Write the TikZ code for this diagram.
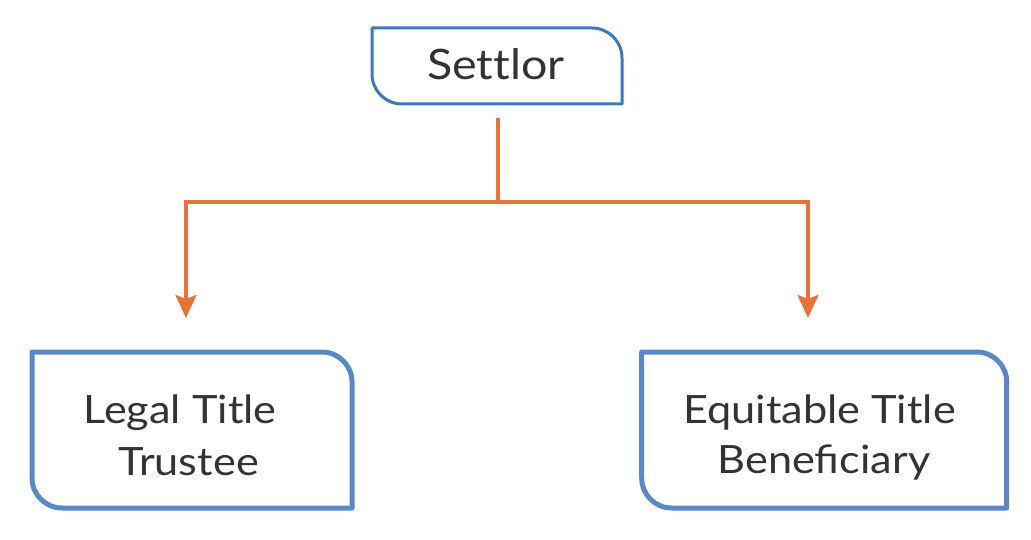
\documentclass[tikz,border=0pt]{standalone}
\usepackage{fontspec}
\setmainfont{Lato}[FakeStretch=1.11]
\usetikzlibrary{arrows.meta}
\definecolor{topblue}{HTML}{3B78C0}
\definecolor{boxblue}{HTML}{5A88C6}
\definecolor{conorange}{HTML}{E6743A}
\definecolor{txt}{HTML}{333333}
\tikzset{
  boxnode/.style={inner sep=0pt, outer sep=0pt, draw=none},
  lbl/.style={text=txt, inner sep=0pt, anchor=base, font=\fontsize{39}{46}\selectfont},
  conn/.style={draw=conorange, line width=3.5pt},
  arr/.style={conn, -{Stealth[length=23pt, width=21pt, inset=4pt]}},
}
\newcommand{\myframe}[4]{% node, radius, color, width
  \draw[draw=#3, line width=#4, line join=round]
    (#1.north west) -- ([xshift=-#2]#1.north east)
    arc[start angle=90, end angle=0, radius=#2]
    -- (#1.south east) -- ([xshift=#2]#1.south west)
    arc[start angle=270, end angle=180, radius=#2] -- cycle;}
\begin{document}
\begin{tikzpicture}[x=1pt, y=-1pt]
  \useasboundingbox (0,0) rectangle (1031,540);
  % boxes
  \node[boxnode, minimum width=250pt, minimum height=76pt] (settlor) at (497,66) {};
  \node[boxnode, minimum width=320pt, minimum height=156pt] (trustee) at (192,430) {};
  \node[boxnode, minimum width=365pt, minimum height=156pt] (benef) at (824.2,430) {};
  \myframe{settlor}{30pt}{topblue}{3pt}
  \myframe{trustee}{30pt}{boxblue}{5pt}
  \myframe{benef}{30pt}{boxblue}{5pt}
  % labels
  \node[lbl, font=\fontsize{42}{50}\selectfont\addfontfeatures{Ligatures=NoCommon}] (tS) at (496,80) {Settlor};
  \node[lbl] (tL1) at (180,423) {Legal Title};
  \node[lbl] (tL2) at (188.5,475) {Trustee};
  \node[lbl] (tE1) at (819.5,423) {Equitable Title};
  \node[lbl] (tE2) at (824,473) {Beneficiary};
  % connectors
  \coordinate (junc) at (498,202);
  \coordinate (ltip) at (186,318);
  \coordinate (rtip) at (808,318);
  \draw[conn] ([yshift=-14pt]settlor.south -| junc) -- (junc);
  \draw[arr] (junc) -| (ltip);
  \draw[arr] (junc) -| (rtip);
\end{tikzpicture}
\end{document}
